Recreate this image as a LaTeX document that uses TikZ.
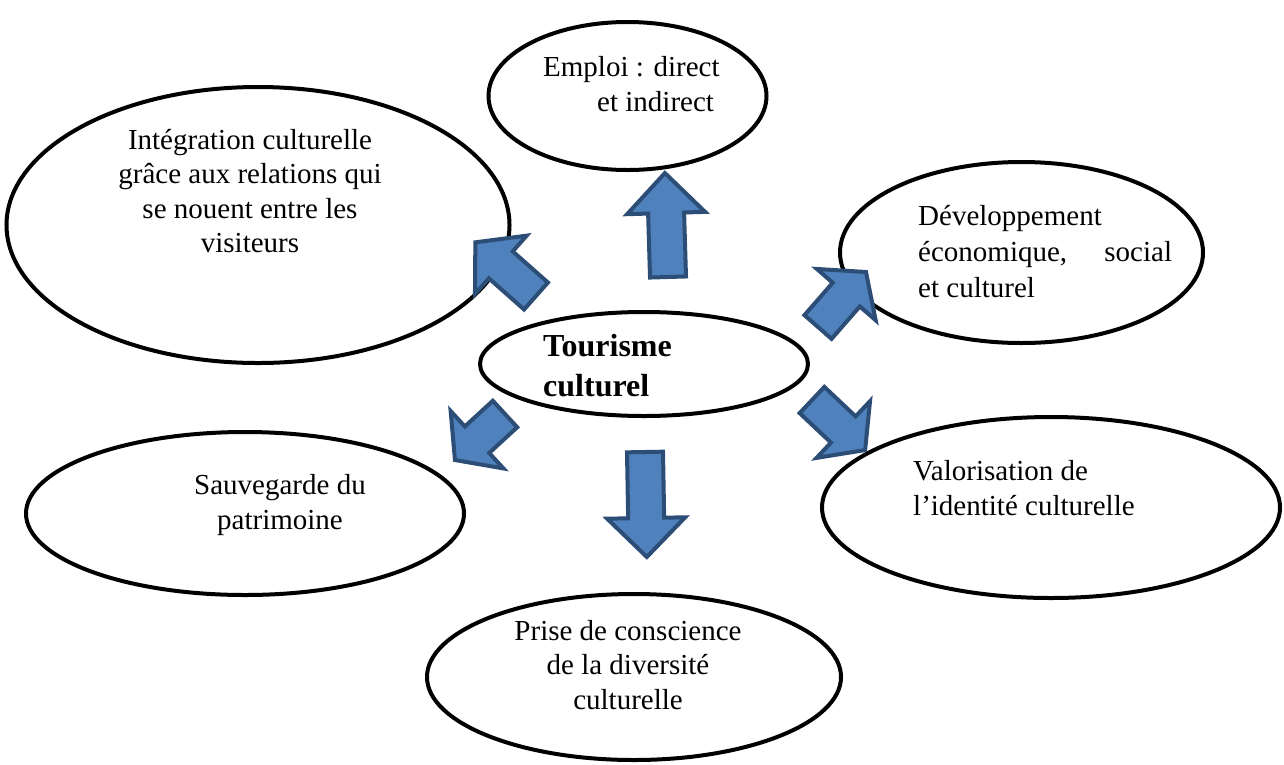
\documentclass[tikz,border=0pt]{standalone}
\usepackage{fontspec}
\setmainfont{Liberation Serif}
\usetikzlibrary{shapes.geometric}
\definecolor{arrfill}{HTML}{4F81BD}
\definecolor{arrline}{HTML}{2C4D75}
\tikzset{
  bubble/.style={ellipse, draw=black, line width=4pt, inner sep=0pt, fill=white},
  txt/.style={inner sep=0pt, font=\fontsize{29}{34.5}\selectfont},
  ctxt/.style={inner sep=0pt, font=\fontsize{32}{40}\selectfont\bfseries},
  blockarr/.style={draw=arrline, fill=arrfill, line width=4pt, line join=miter},
}
\newcommand\blockarrow[5]{%
  \begin{scope}[shift={(#2)}, rotate=#3]
    \draw[blockarr] (0,-18) -- ({#4-#5},-18) -- ({#4-#5},-39) -- (#4,0)
      -- ({#4-#5},39) -- ({#4-#5},18) -- (0,18) -- cycle;
    \coordinate (#1) at (#4,0);
  \end{scope}}
\begin{document}
\begin{tikzpicture}[x=1pt,y=-1pt]
\useasboundingbox (0,0) rectangle (1284,764);
% ellipses
\node[bubble, minimum width=503, minimum height=276] (integ) at (258,225) {};
\node[bubble, minimum width=278, minimum height=148] (emploi) at (627.5,96) {};
\node[bubble, minimum width=363, minimum height=181] (dev) at (1021.5,252.5) {};
\node[bubble, minimum width=328, minimum height=104] (tour) at (644,364) {};
\node[bubble, minimum width=438, minimum height=163] (sauv) at (245,513.5) {};
\node[bubble, minimum width=414, minimum height=166] (prise) at (634,677) {};
\node[bubble, minimum width=458, minimum height=181] (valo) at (1051,507.5) {};
% arrows
\blockarrow{aup}{668,277}{91.7}{104}{40}
\blockarrow{adown}{645,452}{-89}{105}{39}
\blockarrow{anw}{536,296}{138.5}{81}{34}
\blockarrow{ane}{818,327}{48.9}{73}{30}
\blockarrow{asw}{505,414}{-137.4}{68}{30}
\blockarrow{ase}{812,400}{-43.3}{73}{30}
% texts
\node[txt, align=center] (tinteg) at (250,191) {Intégration culturelle\\grâce aux relations qui\\se nouent entre les\\visiteurs};
\node[txt, align=left, anchor=west] (temploi) at (543,84) {Emploi : direct\\\hspace*{54pt}et indirect};
\node[txt, align=left, anchor=west, font=\fontsize{29}{36}\selectfont] (tdev) at (918,252) {Développement\\économique,\hspace{30pt} social\\et culturel};
\node[ctxt, align=left, anchor=west] (ttour) at (543,366) {Tourisme\\culturel};
\node[txt, align=center] (tsauv) at (280,505) {Sauvegarde du\\patrimoine};
\node[txt, align=center] (tprise) at (628,665) {Prise de conscience\\de la diversité\\culturelle};
\node[txt, align=left, anchor=west] (tvalo) at (913,488) {Valorisation de\\l’identité culturelle};
\end{tikzpicture}
\end{document}
